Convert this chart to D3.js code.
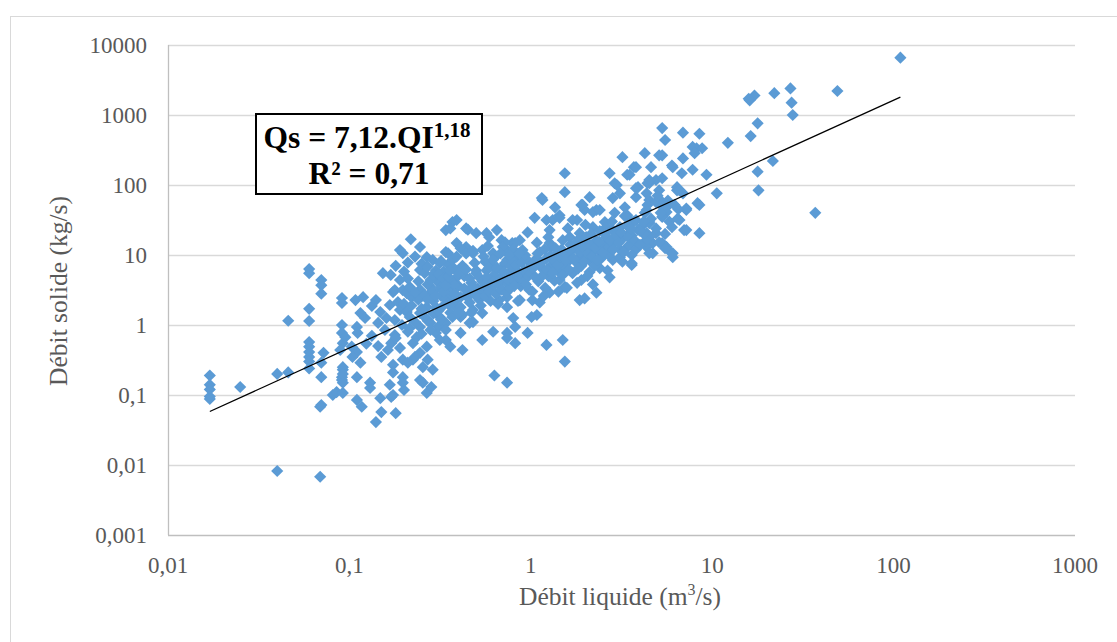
<!DOCTYPE html>
<html>
<head>
<meta charset="utf-8">
<script src="https://cdn.jsdelivr.net/npm/d3@7"></script>
<style>
  body { margin: 0; background: #fff; }
</style>
</head>
<body>
<svg id="chart"></svg>
<script>
// ticks
const xTicks = [0.01, 0.1, 1, 10, 100, 1000];
const yTicks = [0.001, 0.01, 0.1, 1, 10, 100, 1000, 10000];

// regression shown on the chart: Qs = a . Ql^b
const coefA = 7.12;
const exposantB = 1.18;
const r2 = '0,71';

// [Ql (m3/s), Qs (kg/s)]
const faiblesDebits = [
  [0.017,0.19],[0.017,0.14],[0.017,0.12],[0.017,0.095],[0.017,0.088],
  [0.025,0.13],[0.040,0.20],[0.046,0.21],[0.046,1.15],[0.040,0.0082],
  [0.060,6.3],[0.060,5.5],[0.060,1.7],[0.060,1.14],[0.060,0.57],[0.060,0.49],[0.060,0.41],[0.060,0.35],[0.060,0.30],[0.060,0.24],
  [0.070,4.4],[0.070,3.7],[0.070,2.8],[0.070,0.29],[0.070,0.18],[0.070,0.072],[0.069,0.068],[0.069,0.0068],[0.072,0.40],
  [0.091,2.43],[0.091,2.06],[0.091,1.0],[0.091,0.77],[0.092,0.55],[0.092,0.23],[0.091,0.18],[0.091,0.164],[0.081,0.10],[0.085,0.11],
  [0.092,0.107],[0.092,0.15],[0.103,0.49],[0.092,0.25],[0.092,0.20],[0.089,0.44],[0.095,0.67],
  [0.108,2.27],[0.119,2.5],[0.14,2.27],[0.153,5.5],[0.169,5.2],[0.18,7.0],[0.11,0.94],[0.111,0.77],[0.11,0.41],[0.104,0.35],
  [0.115,0.29],[0.11,0.18],[0.11,0.085],[0.117,0.068],[0.13,0.15],[0.13,0.126],[0.148,0.09],[0.15,0.057],[0.14,0.041],[0.148,1.53],
  [0.144,1.07],[0.167,1.93],[0.174,2.95],[0.15,0.35],[0.17,0.55],[0.178,0.72],[0.174,0.27],[0.174,0.21],[0.167,0.14],[0.174,0.10],
  [0.18,0.055],[0.17,0.094],[0.115,1.48],[0.122,1.26],[0.133,1.87],[0.16,1.26],[0.178,1.18],[0.185,2.13],[0.157,0.85],[0.133,0.70],
  [0.124,0.54],[0.144,0.50],[0.163,0.44],[0.178,3.15],[0.19,11.8],[0.197,10.6],[0.19,4.4],[0.19,1.64],[0.195,1.0],[0.18,0.65],
  [0.19,0.47],[0.197,0.18],[0.197,0.15],[0.197,0.32],[0.197,3.15]
];

const debitsMoyens = [
  [0.2,2.0],[0.22,2.5],[0.21,0.8],[0.207,1.53],[0.2,0.118],[0.224,0.32],[0.224,0.55],[0.235,0.67],[0.215,0.9],[0.245,0.4],
  [0.254,0.25],[0.267,0.49],[0.288,0.23],[0.254,0.15],[0.267,0.107],[0.283,0.13],[0.21,0.29],[0.245,0.164],[0.27,0.32],[0.23,0.35],
  [0.28,1.07],[0.207,2.86],[0.215,3.5],[0.245,2.5],[0.245,6.1],[0.267,9.3],[0.288,8.5],[0.315,7.7],[0.30,4.8],[0.28,3.5],
  [0.267,1.8],[0.34,22.7],[0.35,10.6],[0.218,16.8],[0.245,13],[0.215,1.3],[0.245,1.48],[0.315,1.3],[0.245,0.94],[0.30,0.77],[0.34,0.61],
  [0.37,29.5],[0.36,24],[0.45,23],[0.65,22.7],[0.57,20.5],[0.39,31.6],[0.44,24],[0.5,20.5],[0.59,18],[0.69,16.3],
  [0.74,11.8],[0.79,14.8],[0.87,16.3],[0.96,21],[0.9,11.8],[0.39,14.8],[0.34,11],[0.44,13],[0.48,10.6],[0.54,11.8],
  [0.62,10.6],[0.74,8.5],[0.84,9.3],[0.72,15.2],[0.82,14.8],
  [0.315,0.61],[0.36,0.49],[0.42,0.44],[0.41,0.77],[0.48,1.1],[0.54,0.61],[0.62,0.8],[0.74,0.77],[0.74,0.65],[0.82,0.55],
  [0.82,0.94],[0.8,1.26],[0.96,0.77],[0.63,0.19],[0.74,0.15],[0.34,1.07],[0.41,1.3],[0.37,2.06],[0.48,1.64],[0.54,1.48],
  [0.46,1.07],[0.67,2.27],[0.74,2.5],[0.87,2.27],
  [0.25,7.5],[0.26,5.5],[0.27,3.8],[0.28,2.9],[0.29,2.2],[0.3,6.0],[0.31,4.0],[0.32,2.6],[0.33,1.9],[0.34,5.2],
  [0.35,7.3],[0.35,3.3],[0.34,2.4],[0.36,1.5],[0.29,1.45],[0.27,1.15],[0.31,0.95],[0.34,0.85],[0.24,2.3],[0.245,3.2],
  [0.37,8.5],[0.38,6.3],[0.39,4.8],[0.4,3.6],[0.41,2.5],[0.42,7.0],[0.43,5.0],[0.45,3.0],[0.46,2.1],[0.47,4.0],
  [0.49,7.7],[0.5,6.0],[0.51,3.3],[0.52,2.3],[0.54,4.2],[0.38,1.9],[0.42,1.4],[0.47,1.5],[0.5,5.5],[0.53,2.9],
  [0.37,3.2],[0.41,12.5],[0.44,10.5],[0.48,11.5],
  [0.56,8.0],[0.57,6.0],[0.58,4.2],[0.6,3.4],[0.61,7.0],[0.63,5.2],[0.64,9.5],[0.66,3.8],[0.68,6.2],[0.7,4.7],
  [0.72,7.6],[0.74,3.9],[0.76,5.5],[0.78,6.8],[0.8,5.0],[0.82,4.2],[0.84,6.0],[0.86,4.8],[0.88,3.6],[0.9,4.4],
  [0.6,2.2],[0.66,2.0],[0.74,1.8],[0.85,2.2],[0.58,13.5],[0.7,13],[0.8,12],
  [0.32,3.4],[0.33,5.8],[0.36,4.4],[0.36,2.8],[0.38,3.7],[0.39,2.3],[0.4,5.6],[0.41,1.8],[0.43,3.3],[0.44,2.6],
  [0.44,6.2],[0.46,4.6],[0.47,2.8],[0.48,3.6],[0.5,2.6],[0.52,4.8],[0.53,1.9],[0.55,3.4],[0.56,2.6],[0.57,4.8],
  [0.59,3.0],[0.59,6.6],[0.62,4.2],[0.64,2.8],[0.65,6.6],[0.67,4.4],[0.69,3.2],[0.71,5.8],[0.73,2.9],[0.75,4.4],
  [0.77,3.3],[0.79,8.2],[0.81,3.6],[0.83,7.2],[0.87,5.4],[0.89,7.8],[0.92,6.0],[0.94,3.8],[0.95,8.6],[0.97,5.0],
  [0.98,3.2],[0.93,10],[0.99,6.8],[0.55,9.5],[0.62,8.6],[0.68,10.5],[0.76,10],[0.86,10.5],
  [0.21,4.6],[0.22,1.9],[0.23,2.9],[0.23,1.1],[0.24,4.2],[0.25,1.7],[0.25,0.75],[0.26,2.7],[0.26,1.3],[0.27,6.8],
  [0.27,2.3],[0.28,4.4],[0.28,0.85],[0.29,5.3],[0.29,3.0],[0.3,1.8],[0.3,2.6],[0.31,5.4],[0.31,1.6],[0.32,8.2],
  [0.32,1.2],[0.33,3.0],[0.33,4.6],[0.34,3.7],[0.35,2.0],[0.35,4.9],[0.36,6.0],[0.37,1.3],[0.38,2.8],[0.39,9.5],
  [0.4,1.5],[0.2,5.8],[0.21,7.8],[0.23,9.5]
];

const fortsDebits = [
  [1.05,34],[1.16,61],[1.22,31.6],[1.27,22.7],[1.36,48],[1.44,37],[1.5,16.3],[1.08,9],[1.27,14.8],[1.39,6.7],
  [1.54,3.5],[1.08,1.39],[1.01,1.3],[1.22,0.52],[1.5,0.61],[1.54,0.3],[1.02,2.27],[1.12,2.1],[1.27,2.9],[1.44,4.4],
  [1.58,3.4],[1.54,147],[1.54,79],[1.15,65],[1.32,31.6],[1.93,52],[2.3,44],[3.4,35],[4.35,44],[1.8,31.6],
  [1.98,44],[2.56,29.5],[3.1,25],[2.11,67],[2.83,65],[3.8,67],[2.72,147],[3.2,250],[4.25,285],[5.1,265],
  [3.4,140],[3.7,180],[4.6,180],[6.0,190],[6.8,147],[2.9,106],[3.1,76],[3.9,93],[4.4,106],[4.9,118],
  [5.1,84],[6.4,93],[6.9,76],[4.5,61],[5.3,57],[5.6,41],[6.6,31.6],[7.0,22.7],[7.2,44],[1.9,52],
  [2.2,41],[2.4,44],[1.7,31.6],[1.44,34],[3.4,37],[3.8,31.6],[4.5,29.5],[4.35,20.5],[4.9,20.5],[4.7,14.8],
  [5.1,15.2],[5.6,13],[5.98,10.6],[6.06,9.3],[3.5,20.5],[3.4,13],[3.6,7.2],[2.72,4.8],[2.4,6.5],[2.11,5.7],
  [1.9,4.4],[1.86,2.27],[1.98,2.4],[2.3,2.9],[1.64,8.5],[1.86,9.3],[2.03,11.8],[2.4,9.3],[2.72,11.8],[2.83,8.5],
  [3.1,9.3],[2.2,25],[2.6,25],[2.83,22.7],[1.86,20.5],[1.64,18],
  [16.1,1620],[17.1,1900],[17.8,760],[16.3,500],[12.2,400],[5.3,650],[5.5,440],[6.9,560],[8.5,540],[8.2,335],
  [8.8,335],[7.8,350],[8.0,285],[6.9,240],[5.3,265],[6.06,180],[7.8,165],[9.3,140],[10.6,76],[8.3,55],
  [7.2,46],[7.2,22.7],[8.5,20.5],[17.8,155],[18,84],[21.6,220],[27,2400],[27.4,1500],[27.8,1000],[22,2050],
  [15.9,1700],[49,2200],[109,6600],[37,40],[4.5,106],[4.35,76],[6.4,84],[5.1,55],[5.6,48],[5.3,35],
  [4.5,28.5],[4.5,18],[5.3,14.8],[6.06,10.6],[4.35,13],[4.7,10.6],[4.25,40],[3.5,140],[2.98,100],[3.8,90],
  [5.3,125],[4.5,118],[6.6,84],[4.9,57],[6.45,33],[5.5,12.5],[4.5,10.6],[3.6,7.6],[3.8,180],[8.5,52],
  [1.0,5.5],[1.05,8],[1.1,4.2],[1.12,11],[1.15,6.5],[1.2,3.4],[1.22,9],[1.25,5],[1.3,13],[1.3,7.2],
  [1.35,4.3],[1.38,10],[1.4,6],[1.45,8],[1.48,12],[1.02,3],[1.18,2.6],[1.42,3.0],[1.08,15],[1.25,18],
  [1.55,6.6],[1.6,10],[1.65,14],[1.7,5.5],[1.75,8.2],[1.8,12],[1.85,17],[1.9,7],[1.95,10],[2.0,14],
  [2.05,5],[2.1,8.5],[2.15,20],[2.2,11],[2.25,7],[2.3,16],[2.35,12],[2.4,22],[2.45,9],[1.6,24],[1.8,4],[2.2,3.8],[2.0,27],
  [2.55,14],[2.6,18],[2.7,10],[2.8,30],[2.9,15],[3.0,22],[3.1,12],[3.2,17],[3.3,36],[3.4,26],
  [3.5,14],[3.6,19],[3.7,30],[3.8,12],[3.9,23],[2.65,6],[3.2,8],[3.6,10],[2.9,40],[3.3,48],
  [4.1,26],[4.3,16],[4.6,33],[4.9,24],[5.2,40],[5.5,20],[5.8,30],[6.2,52],[4.4,52],[5.0,70],
  [5.7,60],[6.5,45],[4.2,20],[6.0,25],
  [1.03,6.5],[1.06,4.8],[1.09,10.5],[1.13,7.5],[1.17,5.2],[1.19,12],[1.23,6.2],[1.28,9.8],[1.32,5.6],[1.34,8.4],
  [1.37,12.5],[1.41,7.2],[1.46,9.4],[1.5,5.2],[1.52,11],[1.57,8.4],[1.62,6.2],[1.67,11.5],[1.72,9.0],[1.77,15],
  [1.82,6.4],[1.87,11],[1.92,13],[1.97,8],[2.02,18],[2.07,10.5],[2.12,14],[2.18,9.5],[2.27,12.8],[2.32,8.5],
  [2.38,15.5],[2.5,11],[2.58,20],[2.68,13],[2.75,16],[2.85,12],[2.95,19],[3.05,15],[3.15,21],[3.25,11],
  [3.45,18],[3.55,24],[3.75,16],[4.0,22],[4.2,30],[4.0,14]
];

const width = 1117;
const height = 642;
const plot = { left: 168, right: 1075, top: 45, bottom: 535 };
const grey = '#595959';
const serif = '"Liberation Serif", "Times New Roman", "DejaVu Serif", serif';

const mesures = faiblesDebits.concat(debitsMoyens, fortsDebits);

const svg = d3.select('#chart')
  .attr('width', width)
  .attr('height', height)
  .attr('font-family', serif)
  .style('font-family', serif);

// chart area border
svg.append('rect')
  .attr('x', 10.5).attr('y', 16.5)
  .attr('width', width).attr('height', height)
  .attr('fill', 'none')
  .attr('stroke', '#d9d9d9');

const x = d3.scaleLog().domain([0.01, 1000]).range([plot.left, plot.right]);
const y = d3.scaleLog().domain([0.001, 10000]).range([plot.bottom, plot.top]);

const frNum = d => String(d).replace('.', ',');

// horizontal gridlines
svg.append('g')
  .selectAll('line')
  .data(yTicks.slice(1))
  .join('line')
  .attr('x1', plot.left).attr('x2', plot.right)
  .attr('y1', d => Math.round(y(d)) + 0.5)
  .attr('y2', d => Math.round(y(d)) + 0.5)
  .attr('stroke', '#d9d9d9')
  .attr('stroke-width', 1.3);

// axis lines
svg.append('line')
  .attr('x1', plot.left).attr('x2', plot.right)
  .attr('y1', plot.bottom + 0.5).attr('y2', plot.bottom + 0.5)
  .attr('stroke', '#bfbfbf').attr('stroke-width', 1.3);
svg.append('line')
  .attr('x1', plot.left + 0.5).attr('x2', plot.left + 0.5)
  .attr('y1', plot.top).attr('y2', plot.bottom)
  .attr('stroke', '#bfbfbf').attr('stroke-width', 1.3);

// tick labels
svg.append('g')
  .selectAll('text')
  .data(yTicks)
  .join('text')
  .attr('x', 147)
  .attr('y', d => y(d))
  .attr('dy', '0.35em')
  .attr('text-anchor', 'end')
  .attr('font-size', 23)
  .attr('fill', grey)
  .text(frNum);

svg.append('g')
  .selectAll('text')
  .data(xTicks)
  .join('text')
  .attr('x', d => x(d))
  .attr('y', 573)
  .attr('text-anchor', 'middle')
  .attr('font-size', 23)
  .attr('fill', grey)
  .text(frNum);

// axis titles
const xTitle = svg.append('text')
  .attr('x', 620).attr('y', 605)
  .attr('text-anchor', 'middle')
  .attr('font-size', 25.5)
  .attr('fill', grey);
xTitle.append('tspan').text('Débit liquide (m');
xTitle.append('tspan').attr('font-size', 16).attr('dy', -10).text('3');
xTitle.append('tspan').attr('dy', 10).text('/s)');

svg.append('text')
  .attr('transform', 'translate(67,291) rotate(-90)')
  .attr('text-anchor', 'middle')
  .attr('font-size', 25.5)
  .attr('fill', grey)
  .text('Débit solide (kg/s)');

// points
const diamond = d3.symbol().type(d3.symbolSquare).size(74);
svg.append('g')
  .selectAll('path')
  .data(mesures)
  .join('path')
  .attr('d', diamond)
  .attr('transform', d => `translate(${x(d[0])},${y(d[1])}) rotate(45)`)
  .attr('fill', '#5b9bd5');

// power trendline
const qMin = d3.min(mesures, d => d[0]);
const qMax = d3.max(mesures, d => d[0]);
const trend = [qMin, qMax].map(q => [q, coefA * Math.pow(q, exposantB)]);
svg.append('path')
  .datum(trend)
  .attr('d', d3.line().x(d => x(d[0])).y(d => y(d[1])))
  .attr('fill', 'none')
  .attr('stroke', '#000')
  .attr('stroke-width', 1.3);

// equation box
svg.append('rect')
  .attr('x', 256).attr('y', 114)
  .attr('width', 226).attr('height', 80)
  .attr('fill', '#fff')
  .attr('stroke', '#000')
  .attr('stroke-width', 2);

const eq = svg.append('text')
  .attr('x', 367).attr('y', 148)
  .attr('text-anchor', 'middle')
  .attr('font-size', 31.5)
  .attr('font-weight', 'bold');
eq.append('tspan').text('Qs = ' + frNum(coefA) + '.QI');
eq.append('tspan').attr('font-size', 21).attr('dy', -11).text(frNum(exposantB));

svg.append('text')
  .attr('x', 369).attr('y', 184)
  .attr('text-anchor', 'middle')
  .attr('font-size', 31.5)
  .attr('font-weight', 'bold')
  .text('R² = ' + r2);
</script>
</body>
</html>
